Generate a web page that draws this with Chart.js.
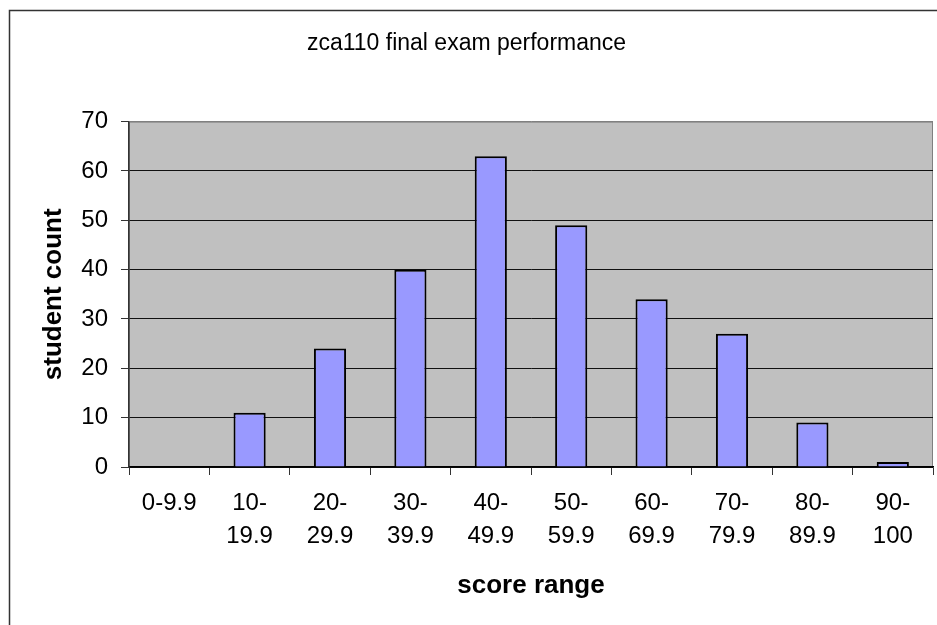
<!DOCTYPE html>
<html>
<head>
<meta charset="utf-8">
<script src="https://cdn.jsdelivr.net/npm/chart.js@4"></script>
<style>
  body { margin: 0; background: #fff; }
</style>
</head>
<body>
<canvas id="chart" width="937" height="625"></canvas>
<script>
// score ranges (two-line tick labels like the original)
const categories = [
  "0-9.9", ["10-", "19.9"], ["20-", "29.9"], ["30-", "39.9"], ["40-", "49.9"],
  ["50-", "59.9"], ["60-", "69.9"], ["70-", "79.9"], ["80-", "89.9"], ["90-", "100"]
];
const studentCount = [0, 11, 24, 40, 63, 49, 34, 27, 9, 1];
const yTicks = [0, 10, 20, 30, 40, 50, 60, 70];

const chartTitle = "zca110 final exam performance";
const xTitle = "score range";
const yTitle = "student count";

const FONT = "'Liberation Sans', Arial, sans-serif";

// gray plot area, outer frame
const framePlugin = {
  id: "frame",
  beforeDraw(chart) {
    const { ctx, chartArea: a } = chart;
    ctx.save();
    ctx.fillStyle = "#fff";
    ctx.fillRect(0, 0, chart.width, chart.height);
    ctx.strokeStyle = "#333";
    ctx.lineWidth = 1.5;
    ctx.strokeRect(9.5, 10.5, chart.width + 20, chart.height + 20);
    ctx.fillStyle = "#c0c0c0";
    ctx.fillRect(a.left, a.top, a.right - a.left, a.bottom - a.top);
    ctx.strokeStyle = "#808080";
    ctx.lineWidth = 1;
    ctx.strokeRect(a.left + 0.5, a.top + 0.5, a.right - a.left - 1, a.bottom - a.top);
    ctx.restore();
  }
};

new Chart(document.getElementById("chart"), {
  type: "bar",
  data: {
    labels: categories,
    datasets: [{
      label: yTitle,
      data: studentCount,
      backgroundColor: "#9999ff",
      borderColor: "#000",
      borderWidth: 2,
      barPercentage: 0.4,
      categoryPercentage: 1.0
    }]
  },
  options: {
    responsive: false,
    animation: false,
    layout: { padding: { left: 0, right: 4, top: 0, bottom: 0 } },
    plugins: {
      legend: { display: false },
      tooltip: { enabled: false },
      title: {
        display: true,
        text: chartTitle,
        color: "#000",
        font: { family: FONT, size: 23, weight: "normal" },
        padding: { top: 30, bottom: 64 }
      }
    },
    scales: {
      x: {
        afterFit(scale) { scale.height = 158; },
        grid: {
          offset: true,
          drawOnChartArea: false,
          drawTicks: true,
          tickLength: 8,
          tickColor: "#333",
          lineWidth: 1
        },
        border: { display: true, color: "#000", width: 1.5 },
        ticks: {
          color: "#000",
          padding: 12,
          maxRotation: 0,
          autoSkip: false,
          font: { family: FONT, size: 24, lineHeight: 1.375 }
        },
        title: {
          display: true,
          text: xTitle,
          color: "#000",
          font: { family: FONT, size: 26, weight: "bold" },
          padding: { top: 0, bottom: 24 }
        }
      },
      y: {
        min: 0,
        max: 70,
        afterFit(scale) { scale.width = 129; },
        afterBuildTicks(scale) { scale.ticks = yTicks.map(v => ({ value: v })); },
        grid: {
          color: ctx => (ctx.tick && ctx.tick.value === 70 ? "#808080" : "#111"),
          lineWidth: 1,
          drawTicks: true,
          tickLength: 8,
          tickColor: "#333"
        },
        border: { display: true, color: "#333", width: 1.5 },
        ticks: {
          color: "#000",
          padding: 13,
          font: { family: FONT, size: 24 }
        },
        title: {
          display: true,
          text: yTitle,
          color: "#000",
          font: { family: FONT, size: 26, weight: "bold" },
          padding: { top: 38, bottom: 0 }
        }
      }
    }
  },
  plugins: [framePlugin]
});
</script>
</body>
</html>
